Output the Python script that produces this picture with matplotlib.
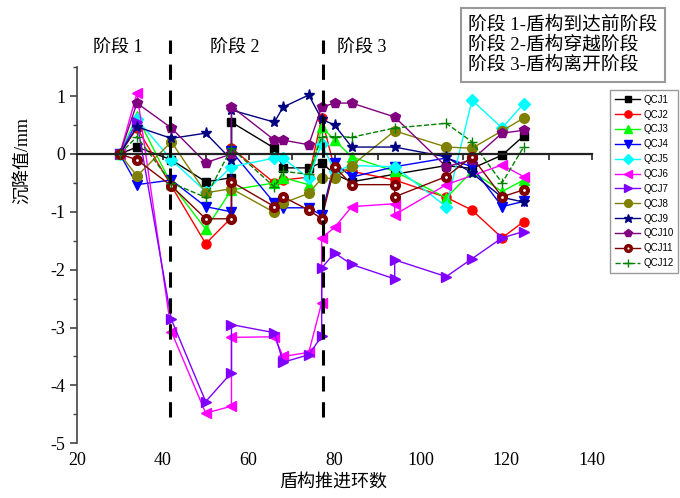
import numpy as np
import matplotlib
matplotlib.use("Agg")
import matplotlib.pyplot as plt
from matplotlib.ticker import MultipleLocator

plt.rcParams['font.family'] = ['Liberation Serif', 'Noto Sans CJK SC']
plt.rcParams['axes.unicode_minus'] = False

# ring number (x) and settlement in mm (y) for each monitoring point
x_qcj1 = [30, 34, 42, 50, 56, 56, 66, 68, 74, 77, 80, 84, 94, 106, 112, 119, 124]
y_qcj1 = [0, 0.12, -0.1, -0.48, -0.41, 0.55, 0.1, -0.24, -0.24, -0.15, -0.35, -0.48, -0.35, -0.2, -0.25, -0.02, 0.31]

x_qcj2 = [30, 34, 42, 50, 56, 56, 66, 68, 74, 77, 80, 84, 94, 106, 112, 119, 124]
y_qcj2 = [0, 0.45, -0.55, -1.55, -1.1, 0.1, -0.5, -0.45, -0.4, 0.62, -0.25, -0.3, -0.45, -0.75, -0.97, -1.45, -1.17]

x_qcj3 = [30, 34, 42, 50, 56, 66, 68, 74, 77, 80, 84, 94, 106, 112, 119, 124]
y_qcj3 = [0, 0.65, -0.52, -1.3, -0.62, -0.5, -0.41, -0.53, 0.47, 0.24, -0.05, -0.3, -0.76, -0.3, -0.65, -0.45]

x_qcj4 = [30, 34, 42, 50, 56, 56, 66, 68, 74, 77, 80, 84, 94, 106, 112, 119, 124]
y_qcj4 = [0, -0.53, -0.45, -0.91, -1.0, 0.05, -0.85, -0.93, -0.93, -1.06, -0.15, -0.4, -0.22, -0.07, -0.22, -0.91, -0.82]

x_qcj5 = [30, 34, 42, 50, 56, 66, 68, 74, 77, 80, 84, 94, 106, 112, 119, 124]
y_qcj5 = [0, 0.6, -0.1, -0.65, -0.22, -0.07, -0.07, -0.42, 0.18, -0.3, -0.2, -0.22, -0.91, 0.93, 0.45, 0.87]

x_qcj6 = [30, 34, 42, 50, 56, 56, 66, 68, 74, 77, 77, 80, 84, 94, 94, 106, 119, 124]
y_qcj6 = [0, 1.05, -3.07, -4.48, -4.36, -3.17, -3.16, -3.5, -3.43, -2.57, -1.45, -1.27, -0.91, -0.86, -1.05, -0.53, -0.19, -0.39]

x_qcj7 = [30, 34, 42, 50, 56, 56, 66, 68, 74, 77, 77, 80, 84, 94, 94, 106, 112, 119, 124]
y_qcj7 = [0, 0.55, -2.86, -4.28, -3.78, -2.95, -3.09, -3.6, -3.47, -3.15, -1.97, -1.71, -1.91, -2.16, -1.83, -2.12, -1.81, -1.45, -1.34]

x_qcj8 = [30, 34, 42, 50, 56, 66, 68, 74, 77, 80, 84, 94, 106, 112, 119, 124]
y_qcj8 = [0, -0.38, 0.21, -0.67, -0.6, -1.01, -0.85, -0.68, -0.42, -0.42, -0.2, 0.4, 0.12, 0.1, 0.4, 0.62]

x_qcj9 = [30, 34, 42, 50, 56, 56, 66, 68, 74, 77, 80, 84, 94, 106, 112, 119, 124]
y_qcj9 = [0, 0.47, 0.27, 0.36, -0.1, 0.76, 0.55, 0.81, 1.02, 0.6, 0.5, 0.12, 0.12, -0.05, -0.33, -0.75, -0.83]

x_qcj10 = [30, 34, 42, 50, 56, 56, 66, 68, 74, 77, 80, 84, 94, 106, 112, 119, 124]
y_qcj10 = [0, 0.88, 0.45, -0.15, 0.0, 0.82, 0.24, 0.24, 0.16, 0.81, 0.88, 0.88, 0.64, -0.22, -0.1, 0.36, 0.41]

x_qcj11 = [30, 34, 42, 50, 56, 56, 66, 68, 74, 77, 80, 84, 94, 94, 106, 112, 119, 124]
y_qcj11 = [0, -0.1, -0.55, -1.12, -1.12, -0.48, -0.91, -0.74, -0.97, -1.12, -0.22, -0.53, -0.53, -0.74, -0.39, -0.05, -0.74, -0.62]

x_qcj12 = [30, 34, 42, 50, 56, 66, 68, 74, 77, 80, 84, 94, 106, 112, 119, 124]
y_qcj12 = [0, 0.3, -0.5, -0.75, 0.1, -0.57, -0.3, -0.35, 0.3, 0.3, 0.29, 0.45, 0.53, 0.21, -0.5, 0.12]

names = ['QCJ1', 'QCJ2', 'QCJ3', 'QCJ4', 'QCJ5', 'QCJ6',
         'QCJ7', 'QCJ8', 'QCJ9', 'QCJ10', 'QCJ11', 'QCJ12']
xs = [x_qcj1, x_qcj2, x_qcj3, x_qcj4, x_qcj5, x_qcj6,
      x_qcj7, x_qcj8, x_qcj9, x_qcj10, x_qcj11, x_qcj12]
ys = [y_qcj1, y_qcj2, y_qcj3, y_qcj4, y_qcj5, y_qcj6,
      y_qcj7, y_qcj8, y_qcj9, y_qcj10, y_qcj11, y_qcj12]

stage_bounds = [41.8, 77.2]
stage_names = ['阶段 1', '阶段 2', '阶段 3']
stage_notes = ['阶段 1-盾构到达前阶段', '阶段 2-盾构穿越阶段', '阶段 3-盾构离开阶段']

colors = ['black', 'red', '#00ff00', 'blue', 'cyan', 'magenta',
          '#8000ff', '#808000', '#000080', '#800080', '#800000', '#008000']
markers = ['s', 'o', '^', 'v', 'D', '<', '>', 'o', '*', 'p', 'o', '+']
msizes = [6, 6.5, 7, 7, 6, 7, 7, 7, 8, 7.5, 7, 7]

fig = plt.figure(figsize=(6.8, 4.98), dpi=100)
ax = fig.add_axes([0.113, 0.110, 0.758, 0.755])

handles = []
for xv, yv, name, c, m, ms in zip(xs, ys, names, colors, markers, msizes):
    ls = '--' if name == 'QCJ12' else '-'
    line, = ax.plot(xv, yv, linestyle=ls, color=c, marker=m, markersize=ms,
                    linewidth=1.0, markeredgewidth=1.0)
    if name == 'QCJ11':
        # circle with a white centre dot
        dot, = ax.plot(xv, yv, linestyle='none', marker='o', markersize=2,
                       color='white', markeredgewidth=0)
        handles.append((line, dot))
    else:
        handles.append(line)

ax.vlines(stage_bounds, -4.55, 1.97, colors='black', linestyles=(0, (5, 3.5)),
          linewidth=2.2, clip_on=False, zorder=5)

ax.set_xlim(20, 140)
ax.set_ylim(-5, 1.5)

ax.spines['top'].set_visible(False)
ax.spines['right'].set_visible(False)
ax.spines['bottom'].set_position(('data', 0))
ax.spines['bottom'].set_linewidth(1.6)
ax.spines['bottom'].set_color('#222222')
ax.spines['left'].set_color('#444444')
ax.spines['left'].set_linewidth(1.2)

ax.xaxis.set_major_locator(MultipleLocator(10))
ax.tick_params(axis='x', direction='out', length=4, width=1.2,
               labelbottom=False, color='#222222')
ax.yaxis.set_major_locator(MultipleLocator(1))
ax.yaxis.set_minor_locator(MultipleLocator(0.5))
ax.tick_params(axis='y', which='major', direction='out', length=5,
               width=1.2, labelsize=13, color='#444444')
ax.tick_params(axis='y', which='minor', direction='out', length=3,
               width=1.0, color='#444444')

sec = ax.secondary_xaxis('bottom')
sec.set_xticks(range(20, 141, 20))
sec.spines['bottom'].set_visible(False)
sec.tick_params(length=0, labelsize=13, pad=6)

leg = ax.legend(handles, names, loc='upper left', bbox_to_anchor=(1.035, 0.94),
                prop={'family': 'Liberation Sans', 'size': 7},
                fancybox=False, edgecolor='gray', handlelength=2.6,
                labelspacing=0.5, borderpad=0.5, handletextpad=0.3,
                borderaxespad=0, markerscale=0.8)
leg.get_frame().set_linewidth(1.0)

for name, fx in zip(stage_names, [118, 235, 362]):
    fig.text(fx / 680, 1 - 48 / 498, name, fontsize=13,
             ha='center', va='center')

fig.text(468 / 680, 1 - 45 / 498, '\n'.join(stage_notes), fontsize=13.5,
         ha='left', va='center', linespacing=1.2,
         bbox=dict(boxstyle='square,pad=0.4', fc='white', ec='#999999', lw=1.5))

fig.text(22 / 680, 1 - 160 / 498, '沉降值/mm', fontsize=13,
         rotation=90, ha='center', va='center')
fig.text(333 / 680, 1 - 482 / 498, '盾构推进环数', fontsize=13,
         ha='center', va='center')

fig.savefig('out.png', dpi=100)
